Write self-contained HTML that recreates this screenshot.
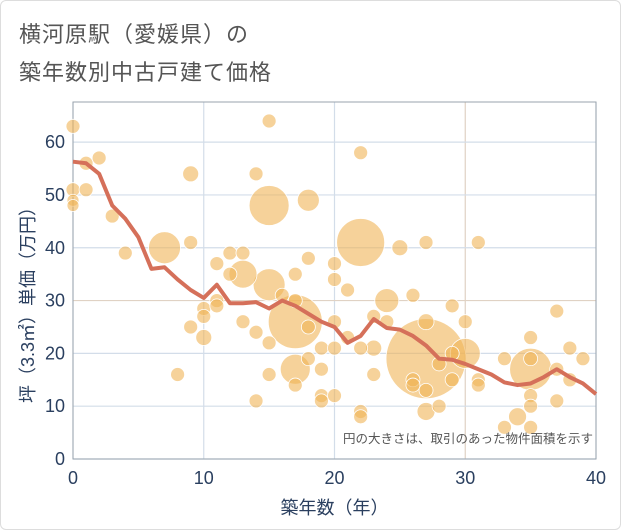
<!DOCTYPE html>
<html><head><meta charset="utf-8"><style>
body{margin:0;background:#fff;}
#wrap{position:relative;width:619px;height:528px;border:1px solid #ddd;border-radius:6px;overflow:hidden;font-family:"Liberation Sans","Noto Sans CJK JP",sans-serif;}
.t{position:absolute;left:18px;font-size:22px;color:#555;letter-spacing:1px;}
</style></head><body>
<div id="wrap">
<div class="t" style="top:16px">横河原駅（愛媛県）の</div>
<div class="t" style="top:54px">築年数別中古戸建て価格</div>
<svg id="c" width="621" height="530" style="position:absolute;left:-1px;top:-1px"></svg>
</div>
<script>
const xTicks=[0,10,20,30,40];
const yTicks=[0,10,20,30,40,50,60];
const bubbleYears=[0,0,0,0,1,1,2,3,4,7,8,9,9,9,10,10,10,11,11,11,12,12,13,13,13,14,14,14,15,15,15,15,15,16,17,17,17,17,17,18,18,18,18,19,19,19,19,20,20,20,20,20,21,21,22,22,22,22,22,23,23,23,24,24,25,26,26,26,27,27,27,27,27,28,28,29,29,29,30,30,31,31,31,33,33,34,35,35,35,35,35,35,37,37,37,38,38,39];
const bubblePrices=[63,51,49,48,56,51,57,46,39,40,16,54,41,25,28.5,27,23,37,30,29,39,35,35,39,26,24,11,54,64,48,33,22,16,31,26,35,30,17,14,49,38,25,19,21,17,12,11,37,34,26,21,12,23,32,58,41,21,9,8,27,21,16,30,26,40,31,15,14,41,26,19,13,9,18,10,29,20,15,26,20,41,15,14,19,6,8,19,17,23,12,10,6,28,11,17,21,15,19];
const bubbleSizes=[7,7,6,6,7,7,7,7,7,16,7,8,7,7,7,7,8,7,7,7,7,7,14,7,7,7,7,7,7,20,16,7,7,7,27,7,7,15,7,11,7,7,7,7,7,7,7,7,7,7,7,7,7,7,7,24,7,7,7,7,8,7,12,7,8,7,7,7,7,8,40,7,9,7,7,7,7,7,7,15,7,7,7,7,7,9,7,21,7,7,7,7,7,7,7,7,7,7];
const lineYears=[0,1,2,3,4,5,6,7,8,9,10,11,12,13,14,15,16,17,18,19,20,21,22,23,24,25,26,27,28,29,30,31,32,33,34,35,36,37,38,39,40];
const linePrices=[56.3,56,54,48,45.5,42,36,36.3,34,32,30.5,33,29.5,29.5,29.7,28.5,30,29,27.5,26,25,22,23.3,26.5,24.8,24.5,23.3,21.5,19,18.8,18,17,16,14.5,14,14.3,15.5,17,15.5,14.3,12.3];
const L=73,R=596,T=102,B=459,YMAX=67.6;
const X=v=>L+(v/40)*(R-L);
const Y=v=>B-(v/YMAX)*(B-T);
const svg=document.getElementById('c');
const NS='http://www.w3.org/2000/svg';
function mk(tag,attrs,parent){const e=document.createElementNS(NS,tag);for(const k in attrs)e.setAttribute(k,attrs[k]);(parent||svg).appendChild(e);return e;}
xTicks.forEach(v=>{
  const g=mk('line',{x1:X(v),x2:X(v),y1:T,y2:B,stroke:v===30?'#e0d2c4':'#d3dde9','stroke-width':1.2});
  
  
  const t=mk('text',{x:X(v),y:B+25,'text-anchor':'middle','font-size':18,fill:'#2a3f5f'});
  t.textContent=v;
  
  
});
yTicks.forEach(v=>{
  const g=mk('line',{x1:L,x2:R,y1:Y(v),y2:Y(v),stroke:v===30?'#e0d2c4':'#d3dde9','stroke-width':1.2});
  
  
  const t=mk('text',{x:L-8,y:Y(v)+6,'text-anchor':'end','font-size':18,fill:'#2a3f5f'});
  t.textContent=v;
  
  
});
const ax=mk('path',{d:`M${L},${T}V${B}H${R}V${T}Z`,fill:'none',stroke:'#99a3ad','stroke-width':1});


const idx=bubbleSizes.map((s,i)=>i).sort((a,b)=>bubbleSizes[b]-bubbleSizes[a]);
idx.forEach(i=>{
  const c=mk('circle',{cx:X(bubbleYears[i]),cy:Y(bubblePrices[i]),r:bubbleSizes[i],fill:'#f0b456','fill-opacity':0.6,stroke:'#fff','stroke-width':0.8});
  
  
});
const p=mk('polyline',{points:lineYears.map((v,i)=>X(v)+','+Y(linePrices[i])).join(' '),fill:'none',stroke:'#d5705a','stroke-width':4,'stroke-linejoin':'round'});


const n=mk('text',{x:593,y:443,'text-anchor':'end','font-size':12.5,fill:'#555'});
n.textContent='円の大きさは、取引のあった物件面積を示す';


const xt=mk('text',{x:(L+R)/2,y:514,'text-anchor':'middle','font-size':18,fill:'#2a3f5f'});
xt.textContent='築年数（年）';


const yt=mk('text',{x:0,y:0,'text-anchor':'middle','font-size':18,fill:'#2a3f5f',transform:`translate(34,${(T+B)/2+20}) rotate(-90)`});
yt.textContent='坪（3.3㎡）単価（万円）';


</script>
</body></html>
